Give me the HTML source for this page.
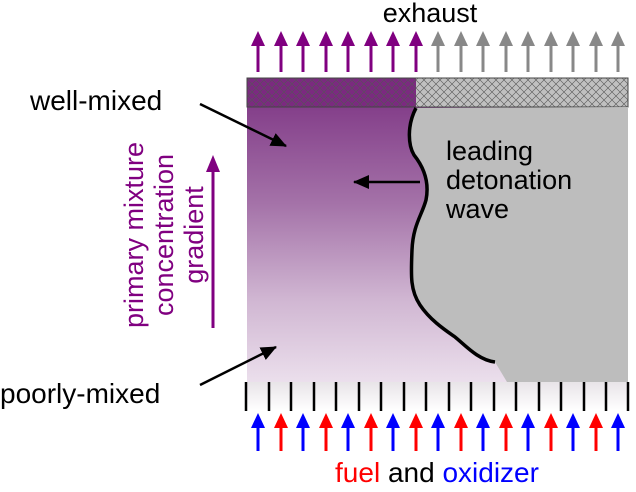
<!DOCTYPE html><html><head><style>body{margin:0;background:#fff}svg{display:block}</style></head><body>
<svg width="636" height="492" viewBox="0 0 636 492" font-family="Liberation Sans, sans-serif">
<defs>
<linearGradient id="pg" x1="0" y1="0" x2="0" y2="1">
<stop offset="0" stop-color="#843f8a"/><stop offset="0.35" stop-color="#a472a8"/><stop offset="0.7" stop-color="#d0b6d2"/><stop offset="1" stop-color="#ebdfec"/></linearGradient>
<linearGradient id="ig" x1="0" y1="0" x2="0" y2="1"><stop offset="0" stop-color="#e8e4e8"/><stop offset="1" stop-color="#fff"/></linearGradient>
<pattern id="hx" width="8" height="8" patternUnits="userSpaceOnUse"><path d="M0 0L8 8M8 0L0 8" stroke="#555" stroke-width="0.6" fill="none"/></pattern>
<marker id="ak" markerWidth="16" markerHeight="14" refX="15" refY="7" orient="auto" markerUnits="userSpaceOnUse" viewBox="0 0 16 14"><path d="M0 0L16 7L0 14z" fill="#000"/></marker>
</defs>
<text x="430" y="22" font-size="27" text-anchor="middle">exhaust</text>
<g>
<path d="M258 72V44M281 72V44M303 72V44M326 72V44M348 72V44M371 72V44M393 72V44M416 72V44" stroke="#800080" stroke-width="3"/>
<path d="M251 46l7-15 7 15zM274 46l7-15 7 15zM296 46l7-15 7 15zM319 46l7-15 7 15zM341 46l7-15 7 15zM364 46l7-15 7 15zM386 46l7-15 7 15zM409 46l7-15 7 15z" fill="#800080"/>
<path d="M438 72V44M461 72V44M483 72V44M506 72V44M528 72V44M551 72V44M573 72V44M596 72V44M618 72V44" stroke="#888" stroke-width="3"/>
<path d="M431 46l7-15 7 15zM454 46l7-15 7 15zM476 46l7-15 7 15zM499 46l7-15 7 15zM521 46l7-15 7 15zM544 46l7-15 7 15zM566 46l7-15 7 15zM589 46l7-15 7 15zM611 46l7-15 7 15z" fill="#888"/>
</g>
<rect x="247" y="107" width="381" height="275" fill="url(#pg)"/>
<rect x="247" y="78" width="169" height="29" fill="#7b2a80"/>
<rect x="416" y="78" width="212" height="29" fill="#c0c0c0"/>
<rect x="247" y="78" width="381" height="29" fill="url(#hx)" stroke="#444" stroke-width="1"/>
<path d="M416 108 C407 125 408 145 414 155 C422 165 430 180 426 200 C422 215 413 225 412 250 C411 275 410 290 420 305 C430 320 445 330 455 337 C465 345 478 360 495 362 L507 382 L628 382 L628 107Z" fill="#bdbdbd"/>
<path d="M416 108 C407 125 408 145 414 155 C422 165 430 180 426 200 C422 215 413 225 412 250 C411 275 410 290 420 305 C430 320 445 330 455 337 C465 345 478 360 495 362" fill="none" stroke="#000" stroke-width="3.5"/>
<rect x="247" y="382" width="381" height="29" fill="url(#ig)"/>
<path d="M246 382v29M269 382v29M291 382v29M314 382v29M336 382v29M359 382v29M381 382v29M404 382v29M426 382v29M449 382v29M471 382v29M494 382v29M516 382v29M539 382v29M561 382v29M584 382v29M606 382v29M628 382v29" stroke="#000" stroke-width="2.5"/>
<g stroke-width="3">
<path d="M258 451V426M303 451V426M348 451V426M393 451V426M438 451V426M483 451V426M528 451V426M573 451V426M618 451V426" stroke="#0000ff"/>
<path d="M281 451V426M326 451V426M371 451V426M416 451V426M461 451V426M506 451V426M551 451V426M596 451V426" stroke="#ff0000"/>
</g>
<path d="M251 428l7-15 7 15zM296 428l7-15 7 15zM341 428l7-15 7 15zM386 428l7-15 7 15zM431 428l7-15 7 15zM476 428l7-15 7 15zM521 428l7-15 7 15zM566 428l7-15 7 15zM611 428l7-15 7 15z" fill="#0000ff"/>
<path d="M274 428l7-15 7 15zM319 428l7-15 7 15zM364 428l7-15 7 15zM409 428l7-15 7 15zM454 428l7-15 7 15zM499 428l7-15 7 15zM544 428l7-15 7 15zM589 428l7-15 7 15z" fill="#ff0000"/>
<text x="437" y="482" font-size="28" text-anchor="middle"><tspan fill="#ff0000">fuel</tspan> and <tspan fill="#0000ff">oxidizer</tspan></text>
<text x="30" y="110" font-size="28">well-mixed</text>
<text x="0" y="403" font-size="28">poorly-mixed</text>
<path d="M200 104L286 146" stroke="#000" stroke-width="2.5" marker-end="url(#ak)"/>
<path d="M200 385L276 347" stroke="#000" stroke-width="2.5" marker-end="url(#ak)"/>
<g fill="#800080" font-size="27" text-anchor="middle">
<text transform="translate(143,235) rotate(-90)">primary mixture</text>
<text transform="translate(173,235) rotate(-90)">concentration</text>
<text transform="translate(203,235) rotate(-90)">gradient</text>
</g>
<path d="M213 328V170" stroke="#800080" stroke-width="3"/>
<path d="M206 172l7-17 7 17z" fill="#800080"/>
<g font-size="27"><text x="446" y="160">leading</text><text x="446" y="189">detonation</text><text x="446" y="218">wave</text></g>
<path d="M420 182L354 182" stroke="#000" stroke-width="2.5" marker-end="url(#ak)"/>
</svg></body></html>
